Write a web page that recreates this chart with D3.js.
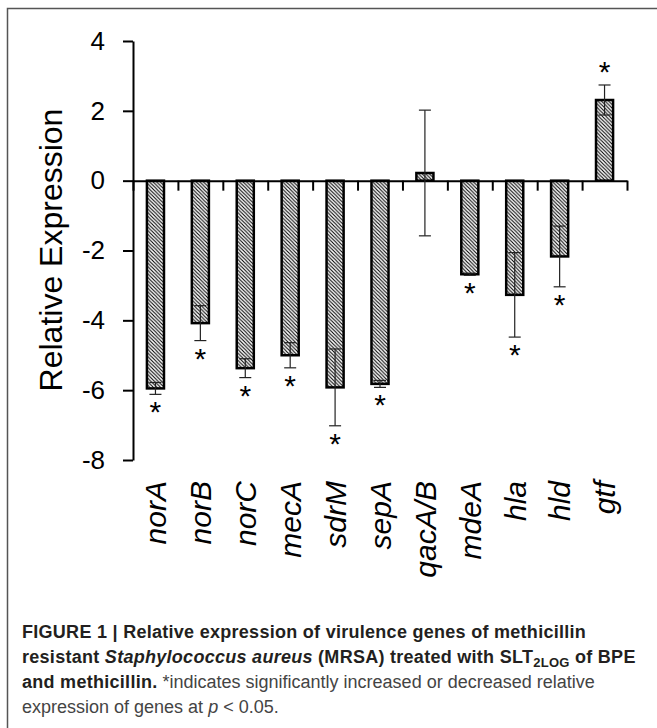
<!DOCTYPE html>
<html>
<head>
<meta charset="utf-8">
<script src="https://cdn.jsdelivr.net/npm/d3@7"></script>
<style>
  body { margin: 0; background: #fff; }
  svg { display: block; }
  .axis path, .axis line { stroke: #000; stroke-width: 2px; }
  .axis text { font-family: "Liberation Sans", Arial, sans-serif; font-size: 26px; fill: #000; }
  .caption { font-family: "Liberation Sans", Arial, sans-serif; font-size: 18px; }
</style>
</head>
<body>
<div id="chart"></div>
<script>
// Chart data
const genes = ["norA", "norB", "norC", "mecA", "sdrM", "sepA", "qacA/B", "mdeA", "hla", "hld", "gtf"];
const values = [-5.95, -4.08, -5.37, -5.0, -5.92, -5.82, 0.22, -2.68, -3.27, -2.17, 2.31];
const errors = [0.17, 0.5, 0.27, 0.36, 1.1, 0.1, 1.8, 0.03, 1.21, 0.87, 0.43];
const significant = [true, true, true, true, true, true, false, true, true, true, true];
const yTicks = [4, 2, 0, -2, -4, -6, -8];

const W = 657, H = 728;
const margin = { top: 41, left: 133, right: 30 };
const plotBottom = 460;

const svg = d3.select("#chart")
  .append("svg")
  .attr("width", W)
  .attr("height", H);

// Hatch pattern for the bars
const defs = svg.append("defs");
const pat = defs.append("pattern")
  .attr("id", "hatch")
  .attr("patternUnits", "userSpaceOnUse")
  .attr("width", 3.6)
  .attr("height", 3.6);
pat.append("rect").attr("width", 3.6).attr("height", 3.6).attr("fill", "#fff");
pat.append("path")
  .attr("d", "M-1,-1 L4.6,4.6 M-1,2.6 L1,4.6 M2.6,-1 L4.6,1")
  .attr("stroke", "#000")
  .attr("stroke-width", 1.1);

// Frame around the figure
svg.append("path")
  .attr("d", `M7.5,${H} L7.5,8.5 L${W},8.5`)
  .attr("fill", "none")
  .attr("stroke", "#555")
  .attr("stroke-width", 1.5);

// Scales
const y = d3.scaleLinear()
  .domain([-8, 4])
  .range([plotBottom, margin.top]);

const x = d3.scaleBand()
  .domain(genes)
  .range([margin.left, W - margin.right])
  .paddingInner(0.62)
  .paddingOuter(0.31);

const xEdge = d3.scaleLinear()
  .domain([0, genes.length])
  .range([margin.left, W - margin.right]);

// Y axis
svg.append("g")
  .attr("class", "axis")
  .attr("transform", `translate(${margin.left},0)`)
  .call(d3.axisLeft(y)
    .tickValues(yTicks)
    .tickSize(10)
    .tickPadding(18)
    .tickSizeOuter(0)
    .tickFormat(d => String(d)));

// Y axis title
svg.append("text")
  .attr("transform", "translate(62,250) rotate(-90)")
  .attr("text-anchor", "middle")
  .style("font-family", "'Liberation Sans', Arial, sans-serif")
  .style("font-size", "32px")
  .text("Relative Expression");

// Bars
svg.selectAll(".bar")
  .data(genes)
  .enter().append("rect")
  .attr("class", "bar")
  .attr("x", d => x(d))
  .attr("width", x.bandwidth())
  .attr("y", (d, i) => y(Math.max(0, values[i])))
  .attr("height", (d, i) => Math.abs(y(values[i]) - y(0)))
  .attr("fill", "url(#hatch)")
  .attr("stroke", "#000")
  .attr("stroke-width", 2.5);

// X axis at zero, ticks between categories
svg.append("g")
  .attr("class", "axis")
  .attr("transform", `translate(0,${y(0)})`)
  .call(d3.axisBottom(xEdge)
    .tickValues(d3.range(0, genes.length + 1))
    .tickSize(10)
    .tickSizeOuter(0)
    .tickFormat(""));

// Error bars
const capW = 6;
const err = svg.append("g")
  .attr("stroke", "#222")
  .attr("stroke-width", 1.2)
  .attr("fill", "none");

genes.forEach((g, i) => {
  const cx = x(g) + x.bandwidth() / 2;
  const hi = y(values[i] + errors[i]);
  const lo = y(values[i] - errors[i]);
  err.append("line").attr("x1", cx).attr("x2", cx).attr("y1", hi).attr("y2", lo);
  err.append("line").attr("x1", cx - capW).attr("x2", cx + capW).attr("y1", hi).attr("y2", hi);
  err.append("line").attr("x1", cx - capW).attr("x2", cx + capW).attr("y1", lo).attr("y2", lo);
});

// Significance asterisks
svg.selectAll(".star")
  .data(genes.filter((g, i) => significant[i]))
  .enter().append("text")
  .attr("class", "star")
  .attr("x", g => x(g) + x.bandwidth() / 2)
  .attr("y", g => {
    const i = genes.indexOf(g);
    const end = values[i] < 0 ? y(values[i] - errors[i]) + 16 : y(values[i] + errors[i]) - 15;
    return end + 12;
  })
  .attr("text-anchor", "middle")
  .style("font-family", "'Liberation Sans', Arial, sans-serif")
  .style("font-size", "30px")
  .text("*");

// Category labels
svg.selectAll(".glabel")
  .data(genes)
  .enter().append("text")
  .attr("class", "glabel")
  .attr("transform", g => `translate(${x(g) + x.bandwidth() / 2},481) rotate(-90)`)
  .attr("dy", "0.36em")
  .attr("text-anchor", "end")
  .style("font-family", "'Liberation Sans', Arial, sans-serif")
  .style("font-style", "italic")
  .style("font-size", "30px")
  .text(g => g);

// Caption
const bold = "#231f20", light = "#444";
function line(parts, yPos) {
  const t = svg.append("text").attr("class", "caption").attr("x", 22).attr("y", yPos);
  parts.forEach(p => {
    const s = t.append("tspan").text(p.t)
      .attr("fill", p.b ? bold : light)
      .style("font-weight", p.b ? "bold" : "normal")
      .style("letter-spacing", p.b ? "0.28px" : "0px")
      .style("font-style", p.i ? "italic" : "normal");
    if (p.sub) s.attr("dy", 4).style("font-size", "13px");
    if (p.after) s.attr("dy", -4);
  });
}
line([{ t: "FIGURE 1 | Relative expression of virulence genes of methicillin", b: true }], 638);
line([
  { t: "resistant ", b: true },
  { t: "Staphylococcus aureus", b: true, i: true },
  { t: " (MRSA) treated with SLT", b: true },
  { t: "2LOG", b: true, sub: true },
  { t: " of BPE", b: true, after: true }
], 663);
line([
  { t: "and methicillin.", b: true },
  { t: " *indicates significantly increased or decreased relative" }
], 688);
line([
  { t: "expression of genes at " },
  { t: "p", i: true },
  { t: " < 0.05." }
], 713);
</script>
</body>
</html>
